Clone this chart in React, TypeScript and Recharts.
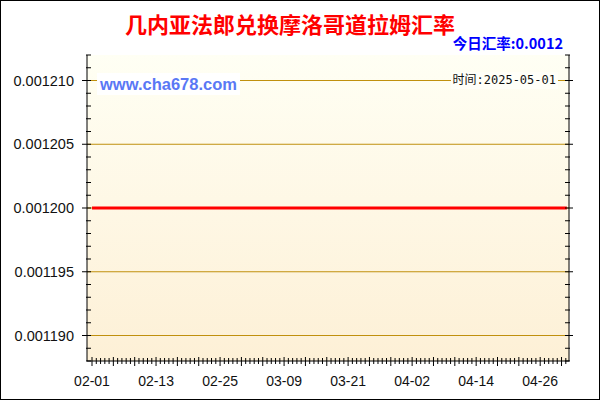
import React from 'react';
import { LineChart, Line, XAxis, YAxis, ReferenceLine, ReferenceArea } from 'recharts';

const dates = [
  '02-01','02-02','02-03','02-04','02-05','02-06','02-07','02-08','02-09','02-10',
  '02-11','02-12','02-13','02-14','02-15','02-16','02-17','02-18','02-19','02-20',
  '02-21','02-22','02-23','02-24','02-25','02-26','02-27','02-28',
  '03-01','03-02','03-03','03-04','03-05','03-06','03-07','03-08','03-09','03-10',
  '03-11','03-12','03-13','03-14','03-15','03-16','03-17','03-18','03-19','03-20',
  '03-21','03-22','03-23','03-24','03-25','03-26','03-27','03-28','03-29','03-30','03-31',
  '04-01','04-02','04-03','04-04','04-05','04-06','04-07','04-08','04-09','04-10',
  '04-11','04-12','04-13','04-14','04-15','04-16','04-17','04-18','04-19','04-20',
  '04-21','04-22','04-23','04-24','04-25','04-26','04-27','04-28','04-29','04-30',
  '05-01',
];

const rates = [
  0.0012,0.0012,0.0012,0.0012,0.0012,0.0012,0.0012,0.0012,0.0012,0.0012,
  0.0012,0.0012,0.0012,0.0012,0.0012,0.0012,0.0012,0.0012,0.0012,0.0012,
  0.0012,0.0012,0.0012,0.0012,0.0012,0.0012,0.0012,0.0012,
  0.0012,0.0012,0.0012,0.0012,0.0012,0.0012,0.0012,0.0012,0.0012,0.0012,
  0.0012,0.0012,0.0012,0.0012,0.0012,0.0012,0.0012,0.0012,0.0012,0.0012,
  0.0012,0.0012,0.0012,0.0012,0.0012,0.0012,0.0012,0.0012,0.0012,0.0012,0.0012,
  0.0012,0.0012,0.0012,0.0012,0.0012,0.0012,0.0012,0.0012,0.0012,0.0012,
  0.0012,0.0012,0.0012,0.0012,0.0012,0.0012,0.0012,0.0012,0.0012,0.0012,
  0.0012,0.0012,0.0012,0.0012,0.0012,0.0012,0.0012,0.0012,0.0012,0.0012,
  0.0012,
];

const xLabels = ['02-01', '02-13', '02-25', '03-09', '03-21', '04-02', '04-14', '04-26'];
const yMajor = [0.00119, 0.001195, 0.0012, 0.001205, 0.00121];
const yLabels = ['0.001190', '0.001195', '0.001200', '0.001205', '0.001210'];

const title = '几内亚法郎兑换摩洛哥道拉姆汇率';
const todayRate = '今日汇率:0.0012';
const site = 'www.cha678.com';
const timeLabel = '时间:2025-05-01';

const data = dates.map((d, i) => ({ i, date: d, rate: rates[i] }));

const X_DOMAIN: [number, number] = [-0.94, 89.4];
const Y_DOMAIN: [number, number] = [0.001188, 0.001212];
const X_STEP = 0.8;
const xTicks = Array.from({ length: 112 }, (_, k) => +(k * X_STEP).toFixed(2));
const yTicks = Array.from({ length: 25 }, (_, k) => +(0.001188 + k * 0.000001).toFixed(7));

const labelFont = '"Liberation Sans", Arial, sans-serif';

const isMajorY = (v: number) => Math.round(v * 1e6) % 5 === 0;

const BottomTick = (props: any) => {
  const { x, y, index } = props;
  const big = index % 5 === 0;
  const k = Math.round(index * X_STEP);
  const label = index % 15 === 0 && xLabels.includes(dates[k]) ? dates[k] : null;
  return (
    <g>
      <line x1={x} x2={x} y1={y - (big ? 4 : 3)} y2={y + (big ? 5 : 3)} stroke="#000" />
      {label && (
        <text x={x} y={y + 25} textAnchor="middle" fontSize={14} fontFamily={labelFont} fill="#111">
          {label}
        </text>
      )}
    </g>
  );
};

const TopTick = (props: any) => {
  const { x, y, index } = props;
  const big = index % 5 === 0;
  return <line x1={x} x2={x} y1={y} y2={y + (big ? 5 : 3)} stroke="#000" />;
};

const LeftTick = (props: any) => {
  const { x, y, payload } = props;
  const v = payload.value;
  const major = isMajorY(v);
  const idx = yMajor.findIndex((m) => Math.abs(m - v) < 1e-9);
  return (
    <g>
      <line x1={x - (major ? 5 : 1)} x2={x + 4} y1={y} y2={y} stroke="#000" />
      {major && idx >= 0 && (
        <text x={x - 13} y={y + 5} textAnchor="end" fontSize={14.5} fontFamily={labelFont} fill="#111">
          {yLabels[idx]}
        </text>
      )}
    </g>
  );
};

const RightTick = (props: any) => {
  const { x, y, payload } = props;
  const major = isMajorY(payload.value);
  return <line x1={x - 4} x2={x + (major ? 4 : 1)} y1={y} y2={y} stroke="#000" />;
};

export default function App() {
  return (
    <div style={{ position: 'absolute', left: 0, top: 0, width: 600, height: 400, background: '#fff' }}>
      <LineChart width={600} height={400} data={data} margin={{ top: 55, right: 0, bottom: 0, left: 0 }}>
        <defs>
          <linearGradient id="plotBg" x1="0" y1="0" x2="0" y2="1">
            <stop offset="0%" stopColor="#FFFFF4" />
            <stop offset="100%" stopColor="#FDF0D6" />
          </linearGradient>
        </defs>
        <XAxis
          xAxisId="b"
          type="number"
          dataKey="i"
          domain={X_DOMAIN}
          ticks={xTicks}
          interval={0}
          height={39}
          tickSize={0}
          tickMargin={0}
          tick={<BottomTick />}
          axisLine={{ stroke: '#000' }}
          tickLine={false}
          allowDataOverflow
        />
        <XAxis
          xAxisId="t"
          orientation="top"
          type="number"
          dataKey="i"
          domain={X_DOMAIN}
          ticks={xTicks}
          interval={0}
          height={0}
          tickSize={0}
          tickMargin={0}
          tick={<TopTick />}
          axisLine={{ stroke: '#000' }}
          tickLine={false}
          allowDataOverflow
        />
        <YAxis
          yAxisId="l"
          type="number"
          domain={Y_DOMAIN}
          ticks={yTicks}
          interval={0}
          width={87}
          tickSize={0}
          tickMargin={0}
          tick={<LeftTick />}
          axisLine={{ stroke: '#000' }}
          tickLine={false}
          allowDataOverflow
        />
        <YAxis
          yAxisId="r"
          orientation="right"
          type="number"
          domain={Y_DOMAIN}
          ticks={yTicks}
          interval={0}
          width={31}
          tickSize={0}
          tickMargin={0}
          tick={<RightTick />}
          axisLine={{ stroke: '#000' }}
          tickLine={false}
          allowDataOverflow
        />
        <ReferenceArea
          xAxisId="b"
          yAxisId="l"
          x1={X_DOMAIN[0]}
          x2={X_DOMAIN[1]}
          y1={Y_DOMAIN[0]}
          y2={Y_DOMAIN[1]}
          fill="url(#plotBg)"
          fillOpacity={1}
          stroke="none"
        />
        {yMajor.map((v) => (
          <ReferenceLine key={v} xAxisId="b" yAxisId="l" y={v} stroke="#C0900E" strokeWidth={1} />
        ))}
        <Line
          xAxisId="b"
          yAxisId="l"
          type="linear"
          dataKey="rate"
          stroke="#FF0000"
          strokeWidth={3}
          dot={false}
          activeDot={false}
          isAnimationActive={false}
        />
      </LineChart>
      <div
        style={{
          position: 'absolute', left: -10, top: 9, width: 600, textAlign: 'center',
          fontFamily: '"Noto Sans CJK SC", sans-serif', fontWeight: 'bold', fontSize: 22,
          color: '#FF0000', lineHeight: '28px', whiteSpace: 'nowrap',
        }}
      >
        {title}
      </div>
      <div
        style={{
          position: 'absolute', right: 37, top: 33, textAlign: 'right',
          fontFamily: '"Noto Sans CJK SC", "Liberation Sans", sans-serif', fontWeight: 'bold', fontSize: 14.5,
          color: '#0000FF', lineHeight: '20px', whiteSpace: 'nowrap',
        }}
      >
        {todayRate}
      </div>
      <div
        style={{
          position: 'absolute', left: 97, top: 73, padding: '0 3px', background: '#fff',
          fontFamily: '"Liberation Sans", Arial, sans-serif', fontWeight: 'bold', fontSize: 16.5,
          color: '#5A78F5', lineHeight: '22px', whiteSpace: 'nowrap',
        }}
      >
        {site}
      </div>
      <div
        style={{
          position: 'absolute', right: 42, top: 72, padding: '0 2px', background: '#FFFFF8',
          fontFamily: '"DejaVu Sans Mono", "Noto Sans CJK SC", monospace', fontSize: 12,
          color: '#111', lineHeight: '17px', whiteSpace: 'nowrap',
        }}
      >
        {timeLabel}
      </div>
      <div
        style={{
          position: 'absolute', left: 0, top: 0, width: 600, height: 400, boxSizing: 'border-box',
          border: '1px solid #000', pointerEvents: 'none',
        }}
      />
    </div>
  );
}
